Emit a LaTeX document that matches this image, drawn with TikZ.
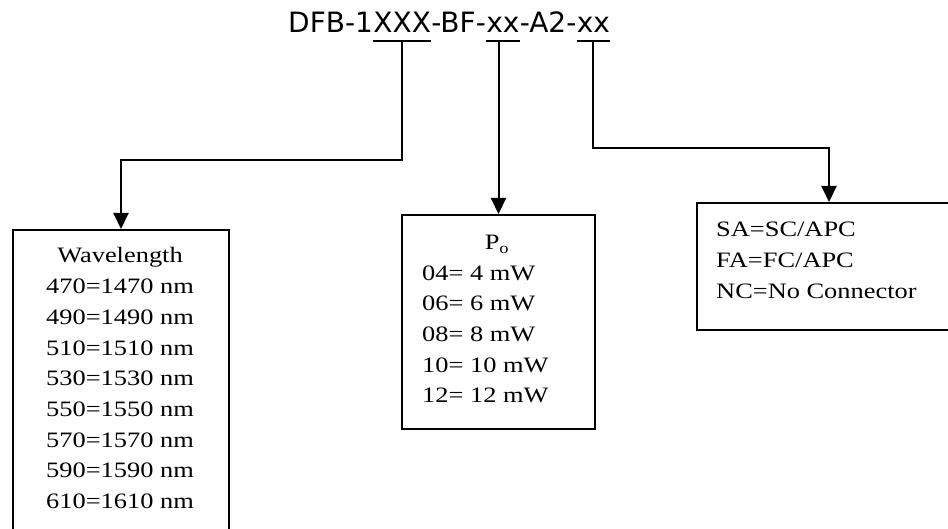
\documentclass[tikz,border=0pt]{standalone}
\usepackage{fontspec}
\setmainfont{Liberation Serif}[FakeStretch=1.2]
\newfontfamily\titlefont{DejaVu Sans}
\usetikzlibrary{arrows.meta}
\begin{document}
\begin{tikzpicture}[x=1pt,y=-1pt,
  conn/.style={line width=2pt, -{Triangle[width=15pt,length=16pt]}},
  brk/.style={line width=1.6pt},
  box/.style={draw, line width=2pt, inner sep=0pt, anchor=north west},
  body/.style={font=\fontsize{22}{30.7}\selectfont, inner sep=0pt},
  tpart/.style={font=\titlefont\fontsize{28}{30}\selectfont, inner sep=0pt, anchor=base west}]
\useasboundingbox (0,0) rectangle (948,529);
\clip (0,0) rectangle (948,529);

% title in parts
\node[tpart] (t1) at (288,33) {DFB-1};
\node[tpart] (t2) at (t1.base east) {XXX};
\node[tpart] (t3) at (t2.base east) {-BF-};
\node[tpart] (t4) at (t3.base east) {xx};
\node[tpart] (t5) at (t4.base east) {-A2-};
\node[tpart] (t6) at (t5.base east) {xx};
\coordinate (u) at (0,41);

% boxes
\node[box, minimum width=216pt, minimum height=340pt] (b1) at (12,229) {};
\node[box, minimum width=193pt, minimum height=214pt] (b2) at (401,214) {};
\node[box, minimum width=264pt, minimum height=127pt] (b3) at (696,202) {};

% underline brackets
\draw[brk] (t2.west |- u) -- (t2.east |- u);
\draw[brk] (t4.west |- u) -- (t4.east |- u);
\draw[brk] (t6.west |- u) -- (t6.east |- u);

% connectors
\draw[conn] (t2.south |- u) -- ++(0,119) -| (b1.north);
\draw[conn] (b2.north |- u) -- (b2.north);
\draw[conn] (t6.south |- u) -- ++(0,107) -| (b3.north);

% box 1 text
\foreach \t [count=\i] in {Wavelength, 470=1470 nm, 490=1490 nm, 510=1510 nm, 530=1530 nm, 550=1550 nm, 570=1570 nm, 590=1590 nm, 610=1610 nm}
  \node[body, anchor=base] (w\i) at (120,{263+30.7*(\i-1)}) {\t};

% box 2 text
\node[body, anchor=base] (p0) at (497,250) {P\textsubscript{o}};
\foreach \t [count=\i] in {04= 4 mW, 06= 6 mW, 08= 8 mW, 10= 10 mW, 12= 12 mW}
  \node[body, anchor=base west] (p\i) at (422,{280.5+30.5*(\i-1)}) {\t};

% box 3 text
\foreach \t [count=\i] in {SA=SC/APC, FA=FC/APC, NC=No Connector}
  \node[body, anchor=base west] (c\i) at (716,{237+31*(\i-1)}) {\t};
\end{tikzpicture}
\end{document}
